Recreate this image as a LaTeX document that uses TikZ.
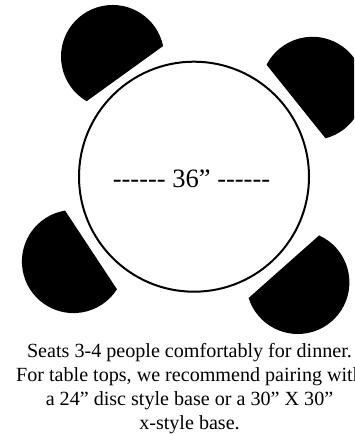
\documentclass[tikz,border=0pt]{standalone}
\usepackage{fontspec}
\setmainfont{Liberation Serif}
\tikzset{
  seat/.style={fill=black,draw=none},
  tabletop/.style={circle,draw=black,line width=2pt,minimum size=230pt,inner sep=0pt,fill=white},
  caption/.style={align=center,inner sep=0pt,font=\fontsize{20.1pt}{24pt}\selectfont},
  size/.style={inner sep=0pt,font=\fontsize{26.5pt}{30pt}\selectfont}
}
\newcommand{\seatshape}[3]{\fill[seat,shift={(#1pt,#2pt)},rotate=#3] (-114:51.6pt) arc[start angle=-114,end angle=114,radius=51.6pt] -- cycle;}
\newcommand{\dashrun}{{-}{-}{-}{-}{-}{-}}
\begin{document}
\begin{tikzpicture}[x=1pt,y=1pt]
\useasboundingbox (0,0) rectangle (354,435);
\clip (0,0) rectangle (354,435);
\seatshape{112.6}{378.4}{125.8}
\seatshape{312.4}{346.6}{38.7}
\seatshape{73.5}{173.5}{213.4}
\seatshape{297.8}{152.6}{-48.4}
\node[tabletop] (table) at (194,258.3) {};
\node[size,anchor=base] (dim) at (191.5,247) {\dashrun{} 36” \dashrun};
\node[caption,anchor=base] (cap) at (189.5,5.7) {Seats 3-4 people comfortably for dinner.\\For table tops, we recommend pairing with\\a 24” disc style base or a 30” X 30”\\x-style base.};
\end{tikzpicture}
\end{document}
